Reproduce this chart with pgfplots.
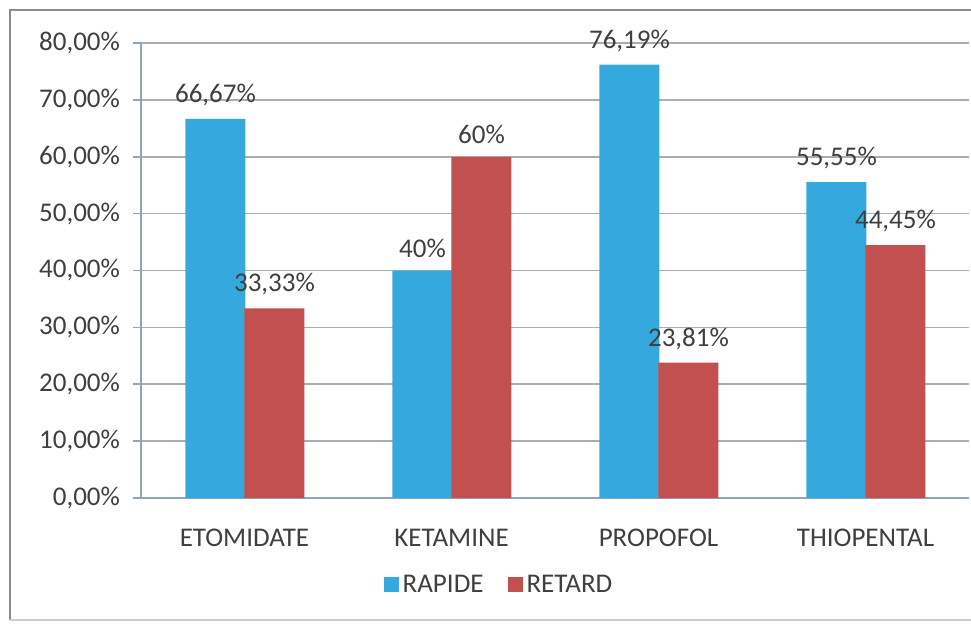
\documentclass[border=0pt]{standalone}
\usepackage{pgfplots}
\pgfplotsset{compat=1.18}
\usepackage{fontspec}
\setmainfont{Carlito}
\definecolor{rapide}{HTML}{35A9DE}
\definecolor{retard}{HTML}{C1504E}
\definecolor{axisc}{HTML}{8FA5BA}
\definecolor{gridc}{HTML}{A7AFB6}
\definecolor{txt}{HTML}{3F3F3F}
\begin{document}
\begin{tikzpicture}[x=1pt,y=1pt]
\useasboundingbox (-70.5,-62.5) rectangle (415,249);
\draw[gridc!80!black, line width=1pt] (-65.5,-61) -- (-65.5,244) -- (415,244);
\draw[gridc!60, line width=0.6pt] (-65.5,-61) -- (415,-61);
\begin{axis}[
  at={(0,0)}, anchor=south west,
  scale only axis, width=414pt, height=227.5pt,
  ybar, bar width=30pt,
  xmin=-0.5, xmax=3.5, ymin=0, ymax=80,
  xtick={0,1,2,3},
  xticklabels={ETOMIDATE,KETAMINE,PROPOFOL,THIOPENTAL},
  extra x ticks={-0.5,0.5,1.5,2.5,3.5},
  extra x tick labels={},
  extra x tick style={major tick length=4pt, tick style={axisc, line width=0.8pt}, tick align=outside},
  major x tick style={draw=none},
  ytick={0,10,...,80},
  yticklabel={\pgfmathprintnumber[fixed,fixed zerofill,precision=2,use comma]{\tick}\%},
  /pgf/number format/assume math mode=true,
  ymajorgrids, grid style={gridc, line width=0.8pt},
  y tick style={axisc, line width=0.8pt}, tick align=outside, major tick length=4pt,
  axis x line*=bottom, axis y line*=left,
  axis line style={axisc, line width=0.9pt},
  tick label style={font=\fontsize{13.5}{15}\selectfont, text=txt},
  x tick label style={yshift=-8pt},
  y tick label style={xshift=-3pt},
  nodes near coords,
  point meta=explicit symbolic,
  every node near coord/.append style={font=\fontsize{13.5}{15}\selectfont, text=txt, yshift=3pt},
  legend style={at={(0.4336,-0.191)}, anchor=center, draw=none, legend columns=2,
    font=\fontsize{13.5}{15}\selectfont, text=txt,
    /tikz/every even column/.append style={column sep=10pt}},
  legend image code/.code={\fill[#1] (0pt,-3.5pt) rectangle (7.5pt,4pt);},
  clip=false,
]
\addplot[fill=rapide, draw=none, bar shift=-14.5pt] coordinates {
  (0,66.67) [66,67\%]
  (1,40) [40\%]
  (2,76.19) [76,19\%]
  (3,55.55) [55,55\%]
};
\addplot[fill=retard, draw=none, bar shift=15pt] coordinates {
  (0,33.33) [33,33\%]
  (1,60) [60\%]
  (2,23.81) [23,81\%]
  (3,44.45) [44,45\%]
};
\legend{RAPIDE,RETARD}
\end{axis}
\end{tikzpicture}
\end{document}
